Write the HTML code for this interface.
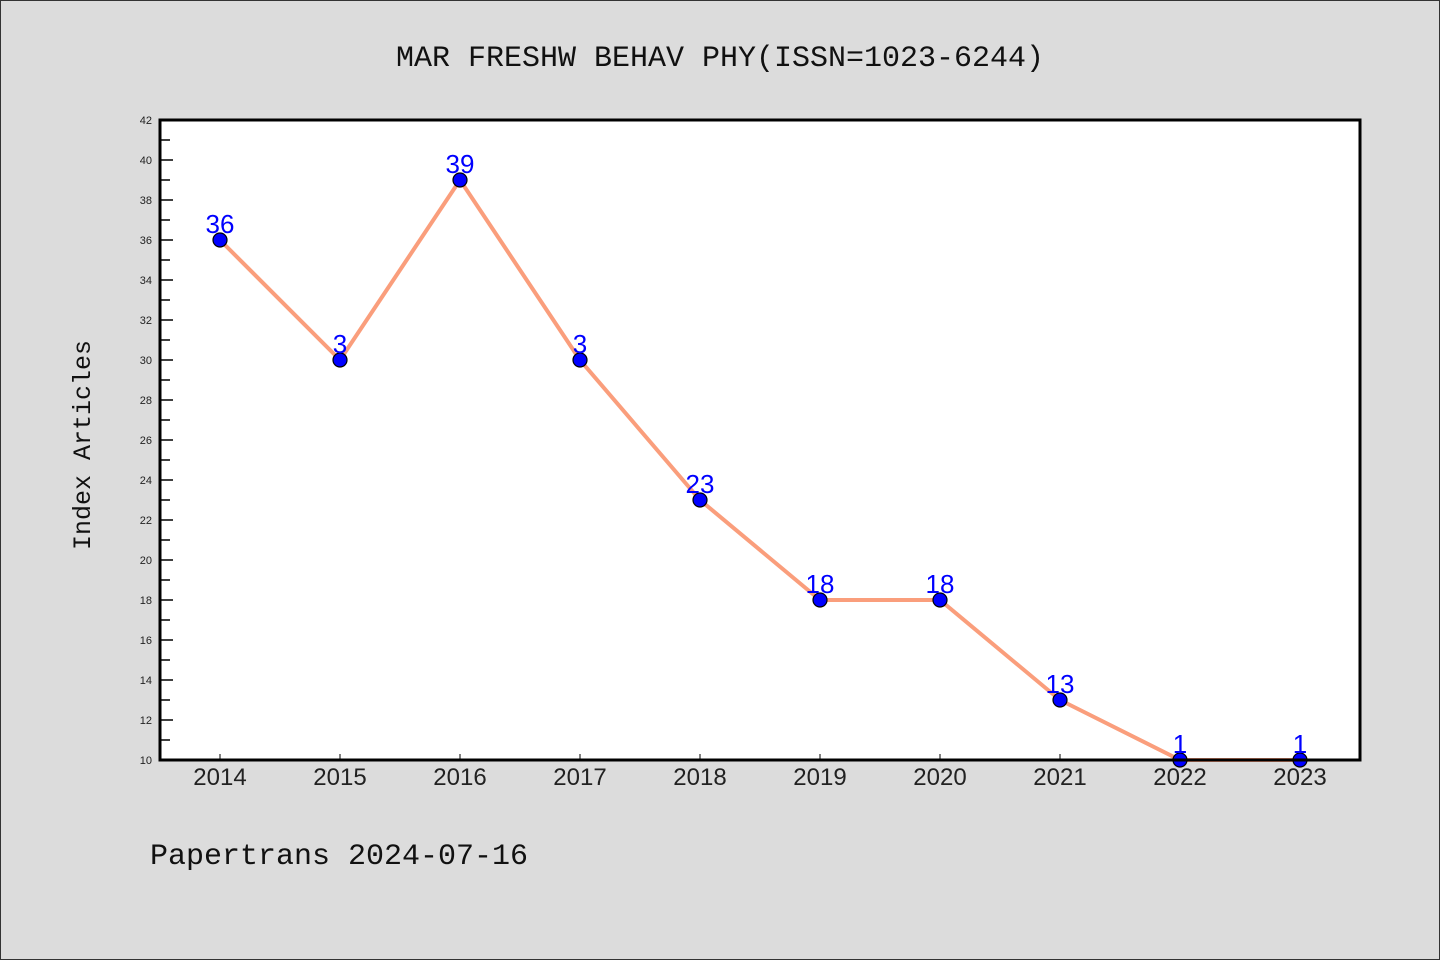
<!DOCTYPE html>
<html><head><meta charset="utf-8"><style>
html,body{margin:0;padding:0;background:#dcdcdc;}
svg{display:block;font-family:"Liberation Sans",sans-serif;}
.mono{font-family:"Liberation Mono","DejaVu Sans Mono",monospace;}
</style></head><body>
<svg id="chart" width="1440" height="960" xmlns="http://www.w3.org/2000/svg">
<rect x="0.5" y="0.5" width="1439" height="959" fill="#dcdcdc" stroke="#333"/>
<text class="mono" x="720" y="66" font-size="30" text-anchor="middle" fill="#111">MAR FRESHW BEHAV PHY(ISSN=1023-6244)</text>
<rect x="160" y="120" width="1200" height="640" fill="#fff"/>
<g id="axes"></g>
<g id="marks"></g>
<rect x="160" y="120" width="1200" height="640" fill="none" stroke="#000" stroke-width="3"/>
<text class="mono" transform="translate(90,445) rotate(-90)" font-size="25" text-anchor="middle" fill="#111">Index Articles</text>
<text class="mono" x="150" y="864" font-size="30" fill="#111">Papertrans 2024-07-16</text>
</svg>
<script>
const categories=["2014","2015","2016","2017","2018","2019","2020","2021","2022","2023"];
const values=[36,30,39,30,23,18,18,13,10,10];
const pointLabels=["36","3","39","3","23","18","18","13","1","1"];
const yTicks=[10,12,14,16,18,20,22,24,26,28,30,32,34,36,38,40,42];
const NS="http://www.w3.org/2000/svg";
const yMin=10,yMax=42,plotTop=120,plotBottom=760,plotLeft=160;
function yS(v){return plotBottom-(v-yMin)/(yMax-yMin)*(plotBottom-plotTop);}
function xS(i){return plotLeft+60+i*120;}
function mk(t,a,p){const e=document.createElementNS(NS,t);for(const k in a)e.setAttribute(k,a[k]);p.appendChild(e);return e;}
const ax=document.getElementById('axes'),mg=document.getElementById('marks');
for(let v=yMin;v<=yMax;v++){
  const major=yTicks.includes(v);
  const l=mk('line',{x1:plotLeft,x2:plotLeft+(major?13:10),y1:yS(v),y2:yS(v),stroke:'#000','stroke-width':1.5},ax);
  
  
}
yTicks.forEach(v=>{
  const t=mk('text',{x:152,y:yS(v)+4,'font-size':11,'text-anchor':'end',fill:'#222'},ax);
  t.textContent=v;
  
  
});
categories.forEach((c,i)=>{
  const l=mk('line',{x1:xS(i),x2:xS(i),y1:plotBottom,y2:plotBottom-6,stroke:'#000','stroke-width':1},ax);
  
  
  const t=mk('text',{x:xS(i),y:785,'font-size':24,'text-anchor':'middle',fill:'#222'},ax);
  t.textContent=c;
  
  
});
const pl=mk('polyline',{points:values.map((v,i)=>xS(i)+','+yS(v)).join(' '),fill:'none',stroke:'#fa9e7c','stroke-width':4},mg);


values.forEach((v,i)=>{
  const c=mk('circle',{cx:xS(i),cy:yS(v),r:7,fill:'#0000ff',stroke:'#000','stroke-width':1.2},mg);
  
  
  const t=mk('text',{x:xS(i),y:yS(v)-7,'font-size':26,'text-anchor':'middle',fill:'#0000ff'},mg);
  t.textContent=pointLabels[i];
  
  
});
</script>
</body></html>
